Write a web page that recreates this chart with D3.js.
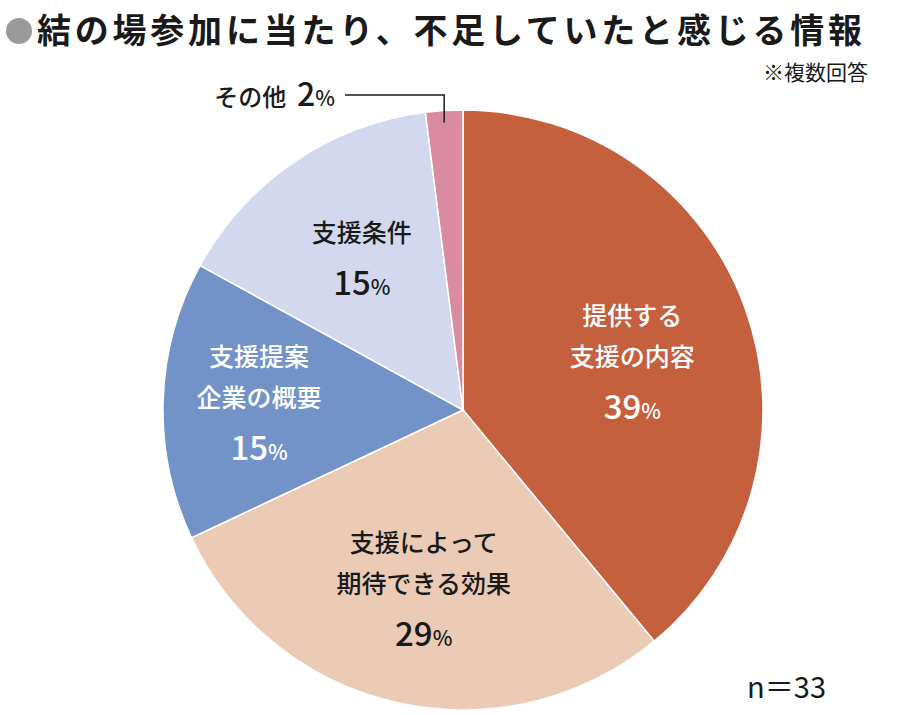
<!DOCTYPE html>
<html lang="ja">
<head>
<meta charset="utf-8">
<script src="https://d3js.org/d3.v7.min.js"></script>
<style>
  body { margin: 0; background: #fff; }
  text { font-family: "Noto Sans CJK JP", sans-serif; }
</style>
</head>
<body>
<div id="chart"></div>
<script>
  // data
  const categories = [["提供する", "支援の内容"], ["支援によって", "期待できる効果"], ["支援提案", "企業の概要"], ["支援条件"], ["その他"]];
  const values = [39, 29, 15, 15, 2];
  const colors = ["#C5603F", "#ECCBB6", "#7393C8", "#D3D8EE", "#D98BA2"];
  const textColors = ["#fff", "#1a1a1a", "#fff", "#1a1a1a", "#1a1a1a"];
  const labelRadius = [0.6, 0.6, 0.68, 0.6, 0];
  const labelShift = [14, 4, 0, -2, 0];

  const width = 915, height = 715;
  const cx = 463, cy = 410, r = 300;

  const svg = d3.select("#chart").append("svg")
    .attr("width", width).attr("height", height);

  // title
  svg.append("circle").attr("cx", 19).attr("cy", 31).attr("r", 13).attr("fill", "#9a9a9a");
  svg.append("text").attr("x", 37).attr("y", 43)
    .attr("font-size", 34).attr("font-weight", 700).attr("fill", "#1a1a1a")
    .attr("textLength", 825)
    .text("結の場参加に当たり、不足していたと感じる情報");
  svg.append("text").attr("x", 868).attr("y", 80).attr("text-anchor", "end")
    .attr("font-size", 21).attr("fill", "#1a1a1a").text("※複数回答");
  svg.append("text").attr("x", 826).attr("y", 698).attr("text-anchor", "end")
    .attr("font-size", 29).attr("fill", "#1a1a1a").text("n＝33");

  const pie = d3.pie().sort(null).value(d => d);
  const arcs = pie(values);
  const arc = d3.arc().innerRadius(0).outerRadius(r);

  const g = svg.append("g").attr("transform", `translate(${cx},${cy})`);
  g.selectAll("path").data(arcs).join("path")
    .attr("d", arc)
    .attr("fill", (d, i) => colors[i])
    .attr("stroke", "#fff").attr("stroke-width", 1.5);

  // inner labels
  arcs.forEach((d, i) => {
    if (labelRadius[i] === 0) return;
    const a = (d.startAngle + d.endAngle) / 2;
    const lr = r * labelRadius[i];
    const x = lr * Math.sin(a), y = -lr * Math.cos(a) + labelShift[i];
    const lines = categories[i];
    const total = lines.length * 41 + 50;
    let y0 = y - total / 2 + 28;
    const t = g.append("text").attr("text-anchor", "middle").attr("fill", textColors[i])
      .attr("font-weight", 500);
    lines.forEach((s, k) => {
      t.append("tspan").attr("x", x).attr("y", y0 + k * 41).attr("font-size", 25).text(s);
    });
    const p = t.append("tspan").attr("x", x).attr("y", y0 + lines.length * 41 + 12);
    p.append("tspan").attr("font-size", 33).text(values[i]);
    p.append("tspan").attr("font-size", 21).text("%");
  });

  // その他 callout
  const last = arcs[4];
  const la = (last.startAngle + last.endAngle) / 2;
  const px = r * Math.sin(la), py = -r * Math.cos(la);
  g.append("polyline")
    .attr("points", `${px},${py + 12} ${px},${-315} ${-118},${-315}`)
    .attr("fill", "none").attr("stroke", "#1a1a1a").attr("stroke-width", 1.5);
  const ot = g.append("text").attr("x", -128).attr("y", -304).attr("text-anchor", "end")
    .attr("fill", "#1a1a1a").attr("font-weight", 500);
  ot.append("tspan").attr("font-size", 24).text(categories[4][0] + "\u00a0\u00a0");
  ot.append("tspan").attr("font-size", 32).text(values[4]);
  ot.append("tspan").attr("font-size", 21).text("%");
</script>
</body>
</html>
